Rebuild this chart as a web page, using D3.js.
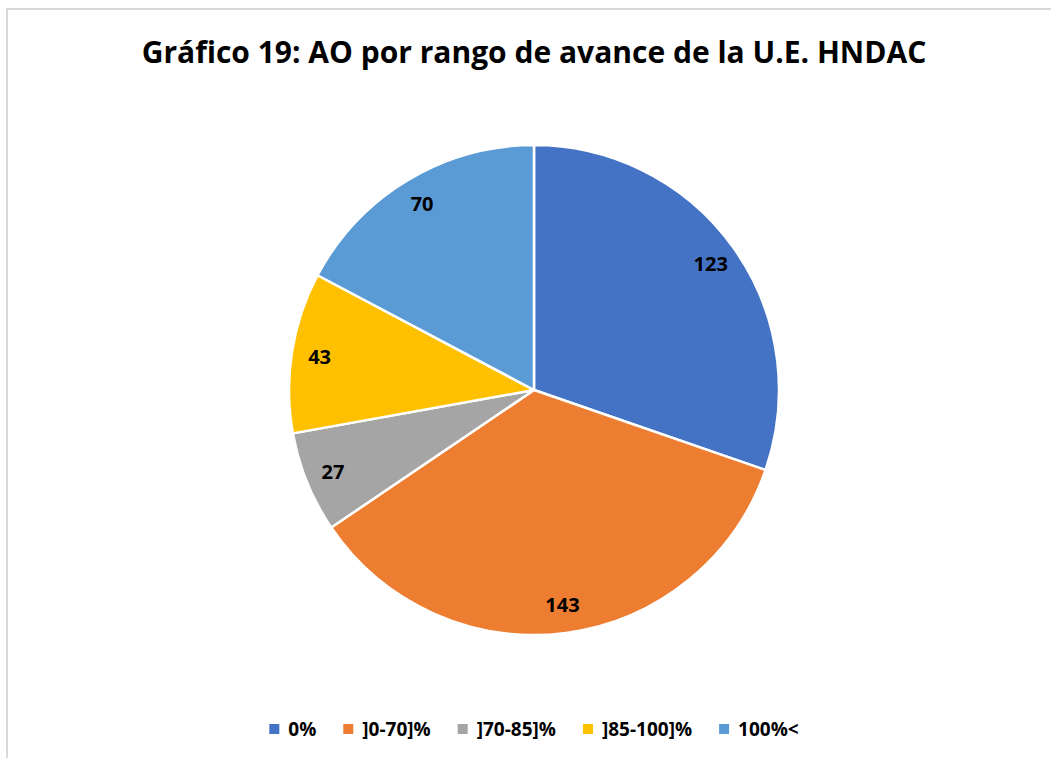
<!DOCTYPE html>
<html>
<head>
<meta charset="utf-8">
<script src="https://cdn.jsdelivr.net/npm/d3@7"></script>
<style>
  body { margin: 0; background: #fff; }
  text { font-family: "Open Sans", "Lato", sans-serif; font-weight: bold; }
</style>
</head>
<body>
<div id="chart"></div>
<script>
var categories = ["0%", "]0-70]%", "]70-85]%", "]85-100]%", "100%<"];
var values = [123, 143, 27, 43, 70];
var colours = ["#4472C4", "#ED7D31", "#A5A5A5", "#FFC000", "#5B9BD5"];
var title = "Gráfico 19: AO por rango de avance de la U.E. HNDAC";

var width = 1051, height = 758;
var cx = 534, cy = 390, radius = 245, labelRadius = 217;

var svg = d3.select("#chart")
        .append("svg")
        .attr("width", width)
        .attr("height", height);

svg.append("rect")
        .attr("width", width).attr("height", height)
        .attr("fill", "#fff");

// chart frame (only top and left show in the crop)
svg.append("path")
        .attr("d", "M7,770 L7,9 L1060,9")
        .attr("fill", "none")
        .attr("stroke", "#d9d9d9")
        .attr("stroke-width", 2);

svg.append("text")
        .attr("x", cx)
        .attr("y", 63)
        .attr("text-anchor", "middle")
        .attr("font-size", "30px")
        .attr("fill", "#000")
        .text(title);

var pie = d3.pie().sort(null).value(function(d){ return d; });
var arcs = pie(values);
var arc = d3.arc().innerRadius(0).outerRadius(radius);
var labelArc = d3.arc().innerRadius(labelRadius).outerRadius(labelRadius);

var g = svg.append("g")
        .attr("transform", "translate(" + cx + "," + cy + ")");

g.selectAll("path.slice")
        .data(arcs)
        .enter()
        .append("path")
        .attr("class", "slice")
        .attr("d", arc)
        .attr("fill", function(d, i){ return colours[i]; })
        .attr("stroke", "#fff")
        .attr("stroke-width", 2.5)
        .attr("stroke-linejoin", "round");

g.selectAll("text.label")
        .data(arcs)
        .enter()
        .append("text")
        .attr("class", "label")
        .attr("transform", function(d){ return "translate(" + labelArc.centroid(d) + ")"; })
        .attr("text-anchor", "middle")
        .attr("dy", "0.36em")
        .attr("font-size", "20px")
        .attr("fill", "#000")
        .text(function(d){ return d.data; });

// legend, centred under the pie
var legend = svg.append("g").attr("transform", "translate(0,729)");
var items = legend.selectAll("g.item")
        .data(categories)
        .enter()
        .append("g")
        .attr("class", "item");
items.append("rect")
        .attr("y", -5)
        .attr("width", 10).attr("height", 10)
        .attr("fill", function(d, i){ return colours[i]; });
items.append("text")
        .attr("x", 19)
        .attr("dy", "0.36em")
        .attr("font-size", "19px")
        .attr("fill", "#000")
        .text(function(d){ return d; });

var gap = 27, xpos = 0, widths = [];
items.each(function(){
    var w = 19 + d3.select(this).select("text").node().getComputedTextLength();
    widths.push(w);
});
var total = d3.sum(widths) + gap * (widths.length - 1);
xpos = cx - total / 2;
items.attr("transform", function(d, i){
    var x = xpos;
    xpos += widths[i] + gap;
    return "translate(" + x + ",0)";
});
</script>
</body>
</html>
